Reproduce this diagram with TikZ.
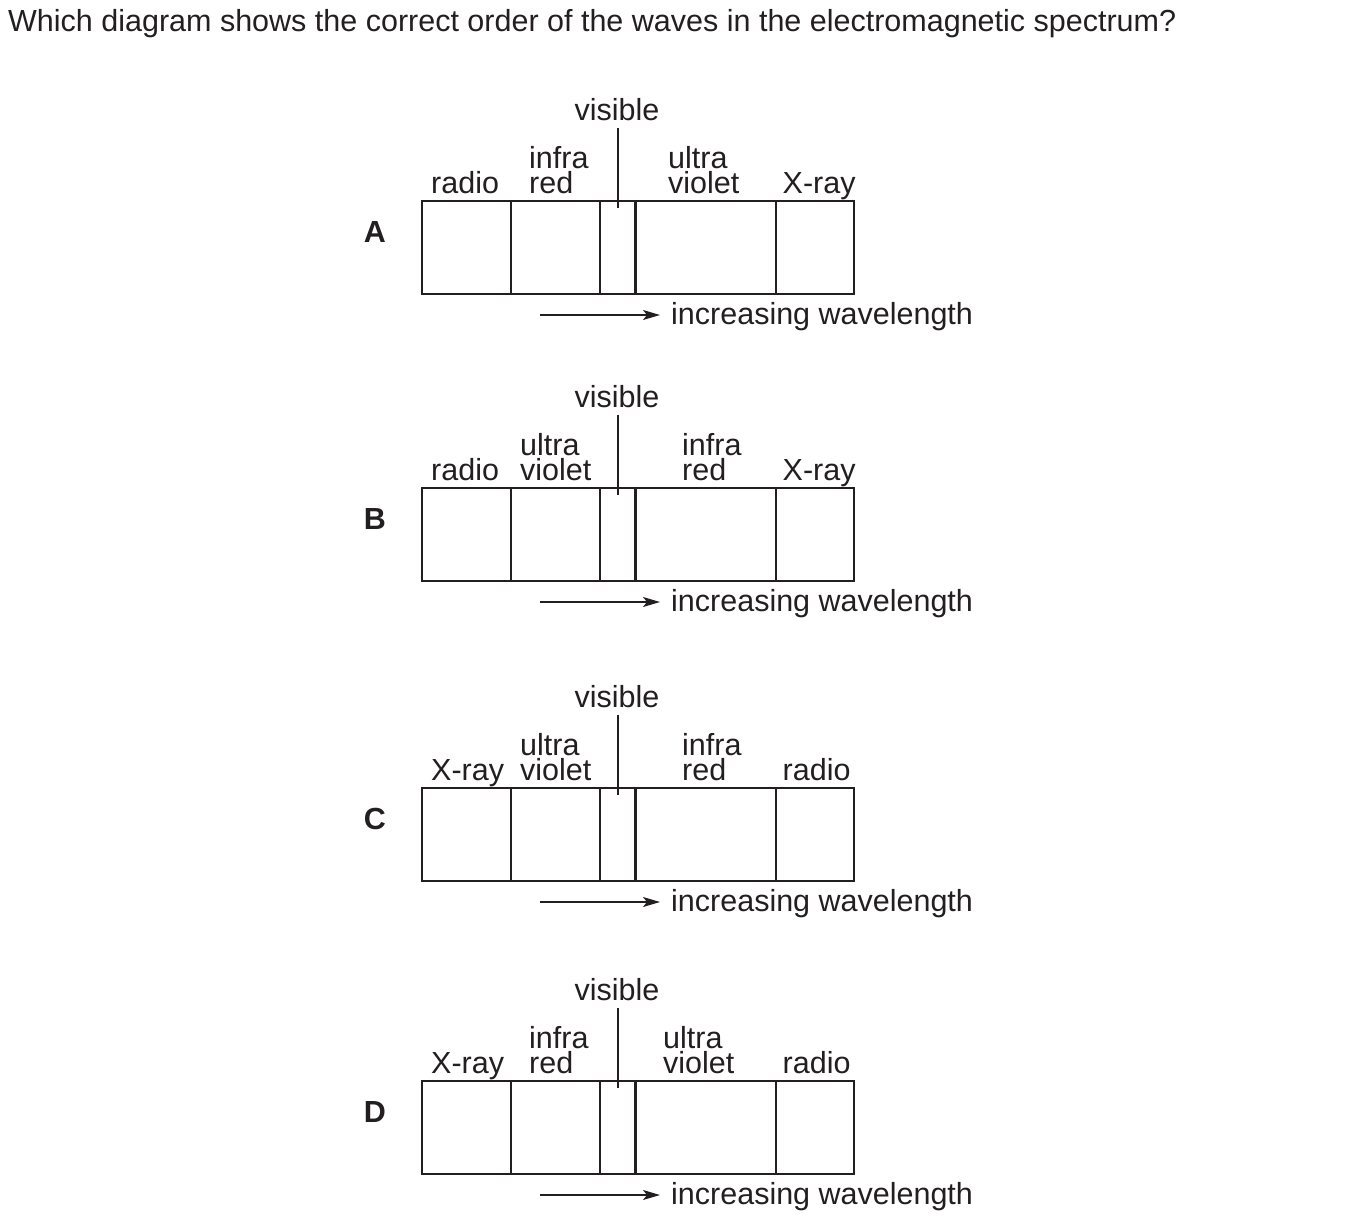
\documentclass[tikz,border=0pt]{standalone}
\usepackage{fontspec}
\setmainfont{Liberation Sans}
\usetikzlibrary{arrows.meta}
\definecolor{ink}{RGB}{35,31,32}
\tikzset{
  spec_txt/.style = {inner sep=0pt, text=ink, font=\fontsize{30.5}{25}\selectfont},
  spec_lbl/.style = {spec_txt, anchor=base west, align=left},
  spec_key/.style = {spec_txt, font=\fontsize{30.5}{25}\selectfont\bfseries},
  spec_line/.style = {draw=ink, line width=1.9pt},
  spec_arrow/.style = {draw=ink, line width=1.5pt, -{Stealth[length=17pt, width=10pt, inset=4pt]}}
}
% #1 key, #2 top of the box, #3 first band, #4/#5 second band, #6/#7 third band, #8 last band
\newcommand{\spectrum}[8]{%
  \node[spec_key] (key#1) at (375,{#2+31}) {#1};
  \draw[spec_line] (422,#2) rectangle (854,{#2+93});
  \foreach \xdiv in {511,600,776} \draw[spec_line] (\xdiv,#2) -- (\xdiv,{#2+93});
  \draw[spec_line, line width=3pt] (635,#2) -- (635,{#2+93});
  % bands
  \node[spec_lbl] (band1#1) at (431,{#2-8}) {#3};
  \node[spec_lbl] (band2#1) at (#4,{#2-8}) {#5};
  \node[spec_lbl] (band3#1) at (#6,{#2-8}) {#7};
  \node[spec_lbl] (band4#1) at (782.5,{#2-8}) {#8};
  % visible
  \node[spec_txt, anchor=base] (vis#1) at (617,{#2-81}) {visible};
  \coordinate (tick#1) at (617.5,{#2+7});
  \draw[spec_line, line width=2pt] (tick#1 |- vis#1.south) ++(0,7) -- (tick#1);
  % wavelength arrow
  \node[spec_lbl] (inc#1) at (671,{#2+123}) {increasing wavelength};
  \coordinate (arr#1) at (540,{#2+114});
  \draw[spec_arrow, shorten >=11pt] (arr#1) -- (arr#1 -| inc#1.west);
}

\begin{document}
\begin{tikzpicture}[x=1pt, y=-1pt]
	\useasboundingbox (0,0) rectangle (1355,1219);
	\node[spec_lbl] (title) at (8,31) {Which diagram shows the correct order of the waves in the electromagnetic spectrum?};
	\spectrum{A}{201}{radio}{529}{infra\\red}{668}{ultra\\violet}{X-ray}
	\spectrum{B}{488}{radio}{520}{ultra\\violet}{682}{infra\\red}{X-ray}
	\spectrum{C}{788}{X-ray}{520}{ultra\\violet}{682}{infra\\red}{radio}
	\spectrum{D}{1081}{X-ray}{529}{infra\\red}{663}{ultra\\violet}{radio}
\end{tikzpicture}
\end{document}
